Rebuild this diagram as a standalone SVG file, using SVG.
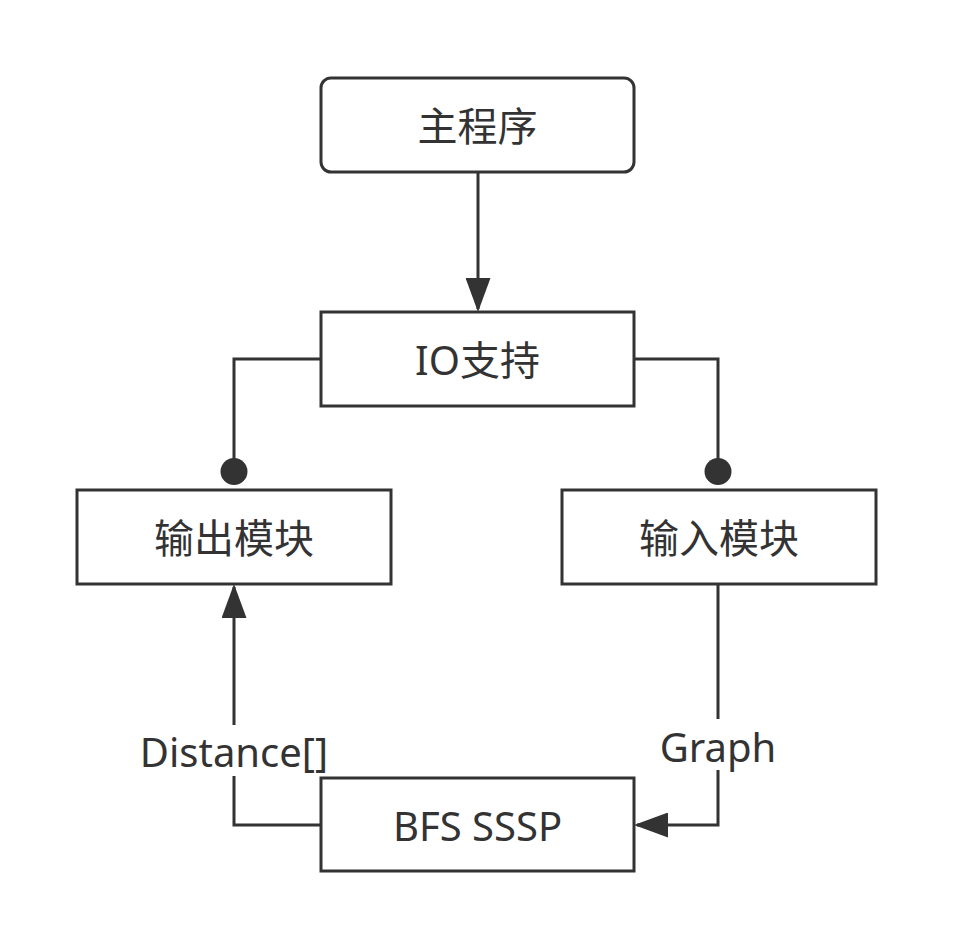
<svg xmlns="http://www.w3.org/2000/svg" width="954" height="950" viewBox="0 0 954 950">
<style>
.box{fill:#ffffff;stroke:#333333;stroke-width:3}
.lbl{font-family:"Noto Sans","Noto Sans CJK SC",sans-serif;font-size:40px;fill:#333333;text-anchor:middle}
.edge{fill:none;stroke:#333333;stroke-width:3}
</style>
<defs>
<marker id="arrow" viewBox="0 0 34 25" refX="31" refY="12.5" markerWidth="34" markerHeight="25" markerUnits="userSpaceOnUse" orient="auto">
<path d="M0,0 L34,12.5 L0,25 Z" fill="#333333"/>
</marker>
<marker id="dot" viewBox="0 0 28 28" refX="14" refY="14" markerWidth="28" markerHeight="28" markerUnits="userSpaceOnUse" orient="auto">
<circle cx="14" cy="14" r="13.5" fill="#333333"/>
</marker>
</defs>
<rect width="954" height="950" fill="#ffffff"/>
<g id="connectors">
<path class="edge" d="M478,172 V309" marker-end="url(#arrow)"/>
<path class="edge" d="M321,359 H234 V471.5" marker-end="url(#dot)"/>
<path class="edge" d="M634,359 H718 V471.5" marker-end="url(#dot)"/>
<path class="edge" d="M321,825 H234 V776 M234,725 V587" marker-end="url(#arrow)"/>
<path class="edge" d="M718,584 V719 M718,770 V825 H637" marker-end="url(#arrow)"/>
<text class="lbl" x="234" y="767">Distance[]</text>
<text class="lbl" x="718" y="762">Graph</text>
</g>
<g id="main">
<rect class="box" x="321" y="78" width="313" height="94" rx="10" ry="10"/>
<text class="lbl" x="477.5" y="141">主程序</text>
</g>
<g id="io">
<rect class="box" x="321" y="312" width="313" height="94"/>
<text class="lbl" x="477.5" y="375">IO支持</text>
</g>
<g id="output">
<rect class="box" x="77" y="490" width="314" height="94"/>
<text class="lbl" x="234" y="553">输出模块</text>
</g>
<g id="input">
<rect class="box" x="562" y="490" width="314" height="94"/>
<text class="lbl" x="719" y="553">输入模块</text>
</g>
<g id="bfs">
<rect class="box" x="321" y="778" width="313" height="93"/>
<text class="lbl" x="477.5" y="841">BFS SSSP</text>
</g>
</svg>
